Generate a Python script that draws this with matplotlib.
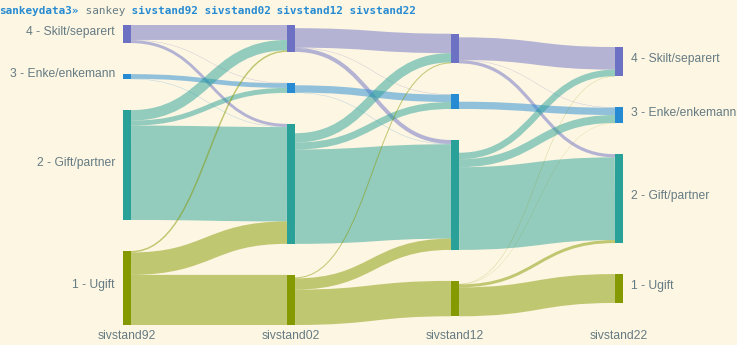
import matplotlib
matplotlib.use("Agg")
import matplotlib.pyplot as plt
from matplotlib.path import Path
from matplotlib.patches import PathPatch, Rectangle
import numpy as np

# ---------------- data ----------------
waves = ["sivstand92", "sivstand02", "sivstand12", "sivstand22"]
categories = ["4 - Skilt/separert", "3 - Enke/enkemann", "2 - Gift/partner", "1 - Ugift"]
cat_colors = ["#6c71c4", "#268bd2", "#2aa198", "#859900"]

# rows = source category, columns = target category (same order as categories)
flows_92_02 = [[15.0, 0.3, 2.9, 0.0],
               [0.0, 4.7, 0.3, 0.0],
               [10.5, 5.0, 94.7, 0.0],
               [1.5, 0.0, 22.5, 50.3]]
flows_02_12 = [[19.5, 0.3, 4.0, 0.0],
               [0.0, 7.3, 0.3, 0.0],
               [9.3, 7.0, 94.7, 0.0],
               [1.0, 0.0, 11.3, 35.5]]
flows_12_22 = [[22.7, 0.3, 3.2, 0.0],
               [0.0, 7.3, 0.0, 0.0],
               [6.5, 8.0, 83.0, 0.0],
               [0.3, 0.2, 3.0, 29.0]]
transitions = [np.array(flows_92_02), np.array(flows_02_12), np.array(flows_12_22)]

# ---------------- layout ----------------
W, H, DPI = 737, 345, 100
BG = "#fdf6e3"
TXT = "#657b83"
node_x0 = [123, 287, 451, 615]
node_w = 8
gap = 31
top, bottom = 25, 325
ncol, ncat = len(waves), len(categories)

# node values = max(inflow, outflow)
vals = np.zeros((ncol, ncat))
for c in range(ncol):
    inflow = transitions[c - 1].sum(axis=0) if c > 0 else np.zeros(ncat)
    outflow = transitions[c].sum(axis=1) if c < ncol - 1 else np.zeros(ncat)
    vals[c] = np.maximum(inflow, outflow)

ky = ((bottom - top) - gap * (ncat - 1)) / vals.sum(axis=1).max()
center = (top + bottom) / 2
ny0 = np.zeros((ncol, ncat))
ny1 = np.zeros((ncol, ncat))
for c in range(ncol):
    tot = vals[c].sum() * ky + gap * (ncat - 1)
    y = center - tot / 2
    for k in range(ncat):
        ny0[c, k] = y
        ny1[c, k] = y + vals[c, k] * ky
        y = ny1[c, k] + gap

fig = plt.figure(figsize=(W / DPI, H / DPI), dpi=DPI)
fig.patch.set_facecolor(BG)
ax = fig.add_axes([0, 0, 1, 1])
ax.set_xlim(0, W)
ax.set_ylim(H, 0)
ax.axis("off")
ax.set_facecolor(BG)

# links
for t, F in enumerate(transitions):
    xs = node_x0[t] + node_w
    xt = node_x0[t + 1]
    xm = (xs + xt) / 2
    # outgoing stacks aligned at bottom of source node (dropouts hidden on top)
    out_off = {}
    for s in range(ncat):
        out_off[s] = ny1[t, s] - F[s].sum() * ky
    in_off = {k: ny0[t + 1, k] for k in range(ncat)}
    for s in range(ncat):
        for k in range(ncat):
            v = F[s, k]
            if v <= 0:
                continue
            w = v * ky
            y0 = out_off[s] + w / 2
            out_off[s] += w
            y1 = in_off[k] + w / 2
            in_off[k] += w
            path = Path([(xs, y0), (xm, y0), (xm, y1), (xt, y1)],
                        [Path.MOVETO, Path.CURVE4, Path.CURVE4, Path.CURVE4])
            ax.add_patch(PathPatch(path, fill=False, edgecolor=cat_colors[s],
                                   alpha=0.5, lw=w * 72 / DPI, capstyle="butt",
                                   zorder=1))
# nodes
for c in range(ncol):
    for k in range(ncat):
        ax.add_patch(Rectangle((node_x0[c], ny0[c, k]), node_w, ny1[c, k] - ny0[c, k],
                               facecolor=cat_colors[k], edgecolor="none", zorder=3))

# node labels
lab_fs = 8.7
for k in range(ncat):
    yc = (ny0[0, k] + ny1[0, k]) / 2
    ax.text(node_x0[0] - 8, yc + 0.5, categories[k], ha="right", va="baseline",
            fontsize=lab_fs, color=TXT, family="Liberation Sans")
    yc = (ny0[-1, k] + ny1[-1, k]) / 2
    ax.text(node_x0[-1] + node_w + 8, yc + 0.5, categories[k], ha="left", va="baseline",
            fontsize=lab_fs, color=TXT, family="Liberation Sans")

for c in range(ncol):
    ax.text(node_x0[c] + node_w / 2, 339, waves[c], ha="center", va="baseline",
            fontsize=lab_fs, color=TXT, family="Liberation Sans")

# title line (command prompt)
title_fs = 7.9
cw = 0.602 * title_fs * DPI / 72
parts = [("sankeydata3»", "#268bd2", "bold"), (" sankey", TXT, "normal")]
for wv in waves:
    parts.append((" " + wv, "#268bd2", "bold"))
pos = 0
for txt, col, wt in parts:
    ax.text(-0.5 + pos * cw, 14, txt, ha="left", va="baseline", fontsize=title_fs,
            color=col, family="DejaVu Sans Mono", fontweight=wt)
    pos += len(txt)

fig.savefig("out.png", dpi=DPI, facecolor=BG)
